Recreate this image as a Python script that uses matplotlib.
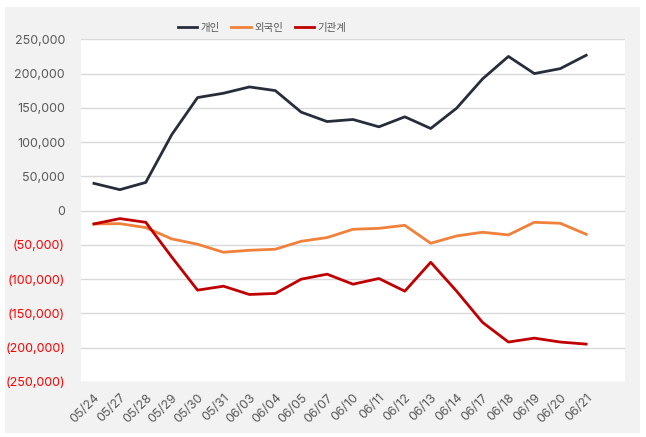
import matplotlib
matplotlib.use("Agg")
import matplotlib.pyplot as plt
from matplotlib.patches import Rectangle
from matplotlib.ticker import FuncFormatter

plt.rcParams['font.family'] = ['Noto Sans CJK KR', 'DejaVu Sans']

dates = ["05/24", "05/27", "05/28", "05/29", "05/30", "05/31", "06/03", "06/04",
         "06/05", "06/07", "06/10", "06/11", "06/12", "06/13", "06/14", "06/17",
         "06/18", "06/19", "06/20", "06/21"]
individual = [39800, 30600, 41200, 110700, 165000, 171300, 180500, 175200,
              143700, 130000, 133000, 122300, 136900, 119900, 149500, 192200,
              225000, 200000, 207200, 226700]
foreign = [-19400, -19000, -24700, -41200, -49000, -60700, -57800, -56300,
           -44700, -39300, -27200, -25800, -21400, -47600, -36900, -31500,
           -35400, -17000, -18400, -34400]
institution = [-19400, -11600, -17000, -67500, -116000, -110200, -122300, -120800,
               -100000, -92700, -107300, -99000, -117500, -75300, -117500, -163000,
               -191700, -186000, -191700, -194700]
series_names = ["개인", "외국인", "기관계"]
colors = ["#262d3b", "#f0803a", "#c00000"]
yticks = [-250000, -200000, -150000, -100000, -50000, 0, 50000, 100000, 150000, 200000, 250000]

W, H = 646, 437
fig = plt.figure(figsize=(W / 100, H / 100), dpi=100, facecolor="white")
fig.patches.append(Rectangle((5 / W, 1 - 433 / H), 635 / W, 426 / H,
                             transform=fig.transFigure, facecolor="#f2f2f2",
                             edgecolor="none", zorder=-10))

ax = fig.add_axes([81 / W, 1 - 382 / H, 544 / W, (382 - 39.3) / H])
ax.set_zorder(1)
ax.set_facecolor("white")

x = list(range(len(dates)))
for vals, name, c in zip([individual, foreign, institution], series_names, colors):
    ax.plot(x, vals, color=c, lw=2.0, label=name)

ax.set_xlim(-0.5, len(dates) + 0.5)
ax.set_ylim(-250000, 250000)
ax.set_yticks(yticks)
ax.yaxis.set_major_formatter(FuncFormatter(
    lambda v, p: f"({abs(v):,.0f})" if v < 0 else f"{v:,.0f}"))
ax.set_xticks(x)
ax.set_xticklabels(dates, rotation=45, ha="right", rotation_mode="anchor")
ax.tick_params(axis="both", length=0, labelsize=9, colors="#595959")
ax.tick_params(axis="y", pad=11.5)
ax.tick_params(axis="x", pad=7)
for lbl in ax.get_xticklabels() + ax.get_yticklabels():
    lbl.set_fontfamily(["Inter", "DejaVu Sans"])
for lbl, v in zip(ax.get_yticklabels(), yticks):
    lbl.set_color("#ff0000" if v < 0 else "#595959")

ax.grid(axis="y", color="#d9d9d9", lw=1)
ax.set_axisbelow(True)
for s in ax.spines.values():
    s.set_visible(False)

leg = fig.legend(loc="center", bbox_to_anchor=(262 / W, 1 - 27.5 / H), ncol=3,
                 frameon=False, fontsize=7.5, handlelength=1.9, handletextpad=0.3,
                 columnspacing=1.1)
for t in leg.get_texts():
    t.set_color("#595959")

fig.savefig("out.png", dpi=100, facecolor="white")
